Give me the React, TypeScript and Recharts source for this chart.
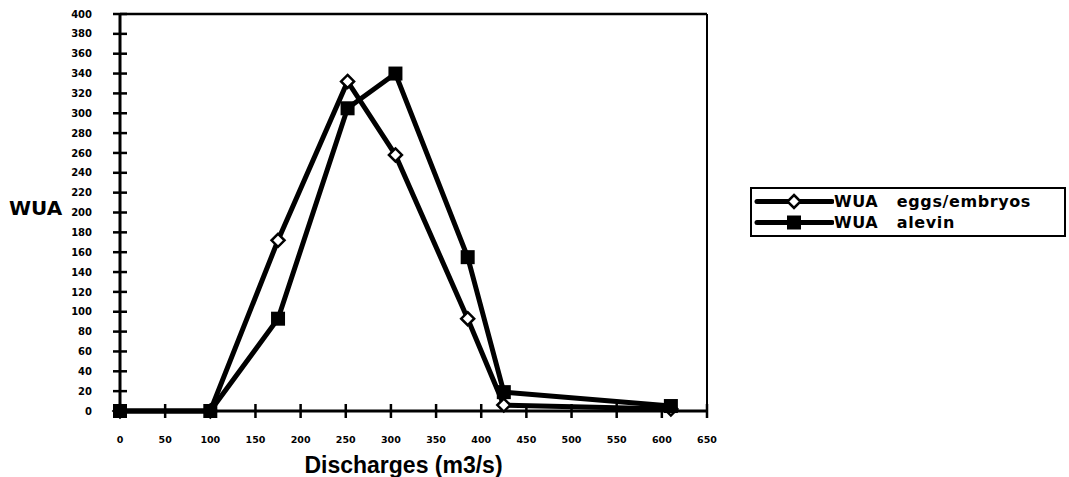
import {
  LineChart,
  Line,
  XAxis,
  YAxis,
  ReferenceLine,
  Legend,
} from "recharts";

// values
const discharges = [0, 100, 175, 252, 305, 385, 425, 610];
const eggsWua = [0, 0, 172, 332, 258, 93, 6, 2];
const alevinWua = [0, 0, 93, 305, 340, 155, 19, 5];

const xTicks = [0, 50, 100, 150, 200, 250, 300, 350, 400, 450, 500, 550, 600, 650];
const yTicks = [
  0, 20, 40, 60, 80, 100, 120, 140, 160, 180, 200, 220, 240, 260, 280, 300, 320,
  340, 360, 380, 400,
];

const seriesNames = ["WUA   eggs/embryos", "WUA   alevin"];

const chartData = discharges.map((q, i) => ({
  q,
  eggs: eggsWua[i],
  alevin: alevinWua[i],
}));

const font = "'Liberation Sans', Arial, Helvetica, sans-serif";
const heavy = "'DejaVu Sans', 'Liberation Sans', sans-serif";

const W = 1069;
const H = 477;
const Y_AXIS_W = 120;
const X_AXIS_H = 66;
const TOP = 14;
const RIGHT = 362;
// where the axis lines end up
const axisX = Y_AXIS_W;
const axisY = H - X_AXIS_H;

// excel style "cross" tick marks
function XTick(props: any) {
  const { x, payload } = props;
  return (
    <g>
      <rect x={x - 1.25} y={axisY - 7} width={2.5} height={14} fill="#000" />
      <text
        x={x}
        y={axisY + 32}
        textAnchor="middle"
        fontFamily={heavy}
        fontWeight="bold"
        fontSize={9.5}
        fill="#000"
      >
        {payload.value}
      </text>
    </g>
  );
}

function YTick(props: any) {
  const { y, payload } = props;
  return (
    <g>
      <rect x={axisX - 7} y={y - 1.25} width={14} height={2.5} fill="#000" />
      <text
        x={axisX - 28}
        y={y}
        dy="0.36em"
        textAnchor="end"
        fontFamily={heavy}
        fontWeight="bold"
        fontSize={10}
        fill="#000"
      >
        {payload.value}
      </text>
    </g>
  );
}

function Diamond(props: any) {
  const { cx, cy, index } = props;
  if (cx == null || cy == null) return <g key={`d-${index}`} />;
  const r = 6.5;
  return (
    <polygon
      key={`d-${index}`}
      points={`${cx},${cy - r} ${cx + r},${cy} ${cx},${cy + r} ${cx - r},${cy}`}
      fill="#fff"
      stroke="#000"
      strokeWidth={2.5}
    />
  );
}

function Square(props: any) {
  const { cx, cy, index } = props;
  if (cx == null || cy == null) return <g key={`s-${index}`} />;
  const h = 7;
  return (
    <rect key={`s-${index}`} x={cx - h} y={cy - h} width={h * 2} height={h * 2} fill="#000" />
  );
}

function LegendBox() {
  const rows = [
    { name: seriesNames[0], Marker: Diamond },
    { name: seriesNames[1], Marker: Square },
  ];
  return (
    <div
      style={{
        border: "2px solid #000",
        padding: "2px 4px 2px 2px",
        background: "#fff",
        fontFamily: heavy,
        fontWeight: "bold",
        fontSize: 16,
        letterSpacing: 0.6,
        lineHeight: "21px",
      }}
    >
      {rows.map(({ name, Marker }) => (
        <div key={name} style={{ display: "flex", alignItems: "center", whiteSpace: "pre" }}>
          <svg width={80} height={21} style={{ display: "block" }}>
            <line x1={3} x2={78} y1={10.5} y2={10.5} stroke="#000" strokeWidth={5} strokeLinecap="round" />
            <Marker cx={40} cy={10.5} index={0} />
          </svg>
          <span>{name}</span>
        </div>
      ))}
    </div>
  );
}

export default function App() {
  return (
    <div style={{ position: "absolute", left: 0, top: 0, background: "#fff" }}>
      <LineChart
        width={W}
        height={H}
        data={chartData}
        margin={{ top: TOP, right: RIGHT, bottom: 0, left: 0 }}
      >
        <XAxis
          dataKey="q"
          type="number"
          domain={[0, 650]}
          ticks={xTicks}
          interval={0}
          height={X_AXIS_H}
          tickLine={false}
          tick={<XTick />}
          axisLine={{ stroke: "#000", strokeWidth: 3 }}
          label={{
            value: "Discharges (m3/s)",
            position: "insideBottom",
            offset: 4,
            dx: -10,
            style: { fontFamily: font, fontWeight: "bold", fontSize: 23, fill: "#000" },
          }}
        />
        <YAxis
          type="number"
          domain={[0, 400]}
          ticks={yTicks}
          interval={0}
          width={Y_AXIS_W}
          tickLine={false}
          tick={<YTick />}
          axisLine={{ stroke: "#000", strokeWidth: 3 }}
          label={{
            value: "WUA",
            position: "insideLeft",
            offset: 9,
            dy: -5,
            style: { fontFamily: heavy, fontWeight: "bold", fontSize: 20, fill: "#000", textAnchor: "start" },
          }}
        />
        <ReferenceLine y={400} stroke="#000" strokeWidth={2.5} />
        <ReferenceLine x={650} stroke="#000" strokeWidth={2} />
        <Line
          dataKey="eggs"
          name={seriesNames[0]}
          type="linear"
          stroke="#000"
          strokeWidth={5}
          dot={(p: any) => <Diamond {...p} />}
          isAnimationActive={false}
        />
        <Line
          dataKey="alevin"
          name={seriesNames[1]}
          type="linear"
          stroke="#000"
          strokeWidth={5}
          dot={(p: any) => <Square {...p} />}
          isAnimationActive={false}
        />
        <Legend
          layout="vertical"
          align="center"
          verticalAlign="middle"
          content={<LegendBox />}
          wrapperStyle={{ left: 750, top: 187, width: 316 }}
        />
      </LineChart>
    </div>
  );
}
